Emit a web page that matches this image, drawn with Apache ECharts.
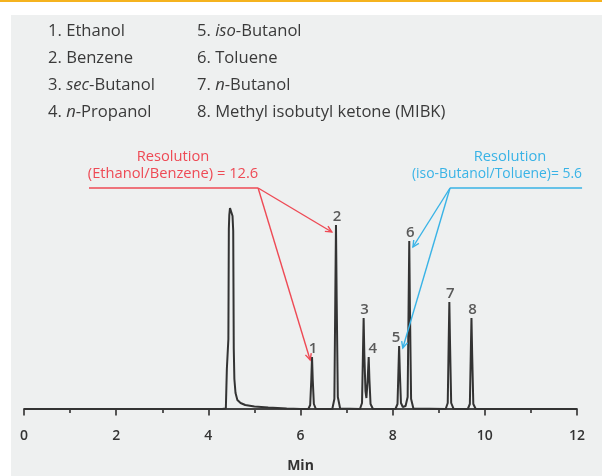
<!DOCTYPE html>
<html><head><meta charset="utf-8">
<script src="https://cdn.jsdelivr.net/npm/echarts@6/dist/echarts.min.js"></script>
<style>html,body{margin:0;padding:0;background:#fff;}#c{width:602px;height:476px;}</style>
</head><body><div id="c"></div>
<script>
// ---- data (time in min, detector signal in relative units) ----
const traceTime = [0, 4.30, 4.38, 4.398, 4.402, 4.42, 4.435, 4.445, 4.455, 4.47, 4.49, 4.51, 4.525, 4.54, 4.552, 4.565, 4.59, 4.63, 4.70, 4.80, 5.00, 5.30, 5.70, 6.00,
  6.17, 6.21, 6.235, 6.25, 6.265, 6.29, 6.33, 6.69,
  6.735, 6.755, 6.77, 6.785, 6.81, 6.86, 7.29,
  7.335, 7.355, 7.37, 7.385, 7.41, 7.43, 7.455, 7.48, 7.495, 7.52, 7.57, 8.06,
  8.105, 8.125, 8.14, 8.155, 8.18, 8.22, 8.28, 8.325, 8.345, 8.36, 8.375, 8.40, 8.45, 9.15,
  9.195, 9.215, 9.23, 9.245, 9.27, 9.32, 9.63,
  9.675, 9.695, 9.71, 9.725, 9.75, 9.80, 10.0, 12.0];
const traceSignal = [0, 0, 0.5, 2, 40, 42, 70, 180, 194, 201, 202, 200, 193, 178, 60, 30, 16, 9, 6, 4, 2.5, 1.5, 0.5, 0,
  0, 4, 30, 52, 30, 5, 0.3, 0,
  10, 110, 184, 110, 12, 0.5, 0,
  6, 55, 91, 55, 18, 11, 27, 52, 30, 5, 0.3, 0,
  5, 38, 63, 38, 6, 2, 3, 12, 100, 168, 100, 10, 0.5, 0,
  6, 65, 107, 65, 6, 0.3, 0,
  5, 55, 91, 55, 5, 0.3, 0, 0];
const peakNumbers = ['1', '2', '3', '4', '5', '6', '7', '8'];
const peakTimes   = [6.25, 6.77, 7.37, 7.48, 8.14, 8.36, 9.23, 9.71];
const peakHeights = [52, 184, 91, 52, 63, 168, 107, 91];
const xTickLabels = ['0', '2', '4', '6', '8', '10', '12'];
const compoundsLeft  = ['1. Ethanol', '2. Benzene', '3. {i|sec}-Butanol', '4. {i|n}-Propanol'];
const compoundsRight = ['5. {i|iso}-Butanol', '6. Toluene', '7. {i|n}-Butanol', '8. Methyl isobutyl ketone (MIBK)'];
const resolutionEB = 12.6;
const resolutionIT = 5.6;

const FONT = '"Open Sans", "Noto Sans", sans-serif';
const RED = '#ee4a55';
const BLUE = '#39b3e6';
const INK = '#3a3a3a';

const chart = echarts.init(document.getElementById('c'), null, {renderer: 'canvas'});

const LFS = 16.6;
const legendEls = [];
const rich = {i: {fontStyle: 'italic', fontSize: LFS, fontFamily: FONT, fill: INK}};
const rowY = [31, 58, 85, 112];
compoundsLeft.forEach((t, k) => legendEls.push({type: 'text', x: 48, y: rowY[k], style: {text: t, rich: rich, font: LFS + 'px ' + FONT, fill: INK, verticalAlign: 'middle'}}));
compoundsRight.forEach((t, k) => legendEls.push({type: 'text', x: 197, y: rowY[k], style: {text: t, rich: rich, font: LFS + 'px ' + FONT, fill: INK, verticalAlign: 'middle'}}));

const bgEls = [
  {type: 'rect', z: -10, shape: {x: 0, y: 0, width: 602, height: 476}, style: {fill: '#ffffff'}},
  {type: 'rect', z: -9, shape: {x: 11, y: 15, width: 591, height: 461}, style: {fill: '#eef0f0'}},
  {type: 'rect', z: -8, shape: {x: 0, y: 0, width: 602, height: 2}, style: {fill: '#f5b31f'}}
];
const AFS = 14.7;
const annTextEls = [
  {type: 'text', x: 173, y: 157, style: {text: 'Resolution', font: AFS + 'px ' + FONT, fill: RED, align: 'center', verticalAlign: 'middle'}},
  {type: 'text', x: 173, y: 174, style: {text: '(Ethanol/Benzene) = ' + resolutionEB, font: AFS + 'px ' + FONT, fill: RED, align: 'center', verticalAlign: 'middle'}},
  {type: 'text', x: 510, y: 157, style: {text: 'Resolution', font: AFS + 'px ' + FONT, fill: BLUE, align: 'center', verticalAlign: 'middle'}},
  {type: 'text', x: 497, y: 174, style: {text: '(iso-Butanol/Toluene)= ' + resolutionIT, font: '13.9px ' + FONT, fill: BLUE, align: 'center', verticalAlign: 'middle'}}
];

chart.setOption({
  animation: false,
  backgroundColor: '#ffffff',
  grid: {left: 24, right: 25, top: 150, bottom: 61, containLabel: false, outerBoundsMode: 'none'},
  xAxis: {
    type: 'value', min: 0, max: 12, interval: 2,
    axisLine: {lineStyle: {color: '#444', width: 1.8}},
    axisTick: {show: true, length: 6.5, lineStyle: {color: '#444', width: 1.8}},
    minorTick: {show: true, splitNumber: 2, length: 4, lineStyle: {color: '#444', width: 1.8}},
    splitLine: {show: false},
    axisLabel: {margin: 14, fontSize: 14, fontWeight: 600, color: '#333', fontFamily: FONT, formatter: (v) => xTickLabels[Math.round(v / 2)]},
    name: 'Min', nameLocation: 'middle', nameGap: 44,
    nameTextStyle: {fontSize: 14, fontWeight: 'bold', color: '#333', fontFamily: FONT}
  },
  yAxis: {type: 'value', min: -6, max: 259, show: false, splitLine: {show: false}},
  series: [
    {
      type: 'line', data: traceTime.map((t, k) => [t, traceSignal[k]]),
      showSymbol: false, symbol: 'none', smooth: false,
      lineStyle: {color: '#333', width: 2}, z: 3
    },
    {
      type: 'scatter', symbolSize: 0,
      data: peakTimes.map((t, k) => ({value: [t, peakHeights[k]], name: peakNumbers[k],
        label: {offset: [k === 3 ? 4 : (k === 4 ? -3 : 1), 0]}})),
      label: {show: true, position: 'top', distance: 1, formatter: (p) => p.name,
        fontSize: 15, fontWeight: 600, color: '#333', fontFamily: FONT}
    }
  ],
  graphic: {elements: bgEls.concat(legendEls, annTextEls)}
});

// annotation leader lines anchored in data coordinates
function px(p) { return chart.convertToPixel({gridIndex: 0}, p); }
function arrowEls(from, to, color) {
  const a = px(from), b = px(to);
  const ang = Math.atan2(b[1] - a[1], b[0] - a[0]);
  const L = 7, w = 0.45;
  const p1 = [b[0] - L * Math.cos(ang - w), b[1] - L * Math.sin(ang - w)];
  const p2 = [b[0] - L * Math.cos(ang + w), b[1] - L * Math.sin(ang + w)];
  return [
    {type: 'line', shape: {x1: a[0], y1: a[1], x2: b[0], y2: b[1]}, style: {stroke: color, lineWidth: 1.4}, z: 5},
    {type: 'polyline', shape: {points: [p1, b, p2]}, style: {stroke: color, lineWidth: 1.4, fill: null}, z: 5}
  ];
}
function hline(x1, x2, y, color) {
  const a = px([x1, y]), b = px([x2, y]);
  return {type: 'line', shape: {x1: a[0], y1: a[1], x2: b[0], y2: b[1]}, style: {stroke: color, lineWidth: 1.6}, z: 5};
}
const annLines = [
  hline(1.41, 5.08, 221, RED),
  ...arrowEls([5.08, 221], [6.68, 177], RED),
  ...arrowEls([5.08, 221], [6.21, 49], RED),
  hline(9.245, 12.11, 221, BLUE),
  ...arrowEls([9.245, 221], [8.44, 162], BLUE),
  ...arrowEls([9.245, 221], [8.22, 61], BLUE)
];
chart.setOption({graphic: {elements: bgEls.concat(legendEls, annTextEls, annLines)}});
</script></body></html>
